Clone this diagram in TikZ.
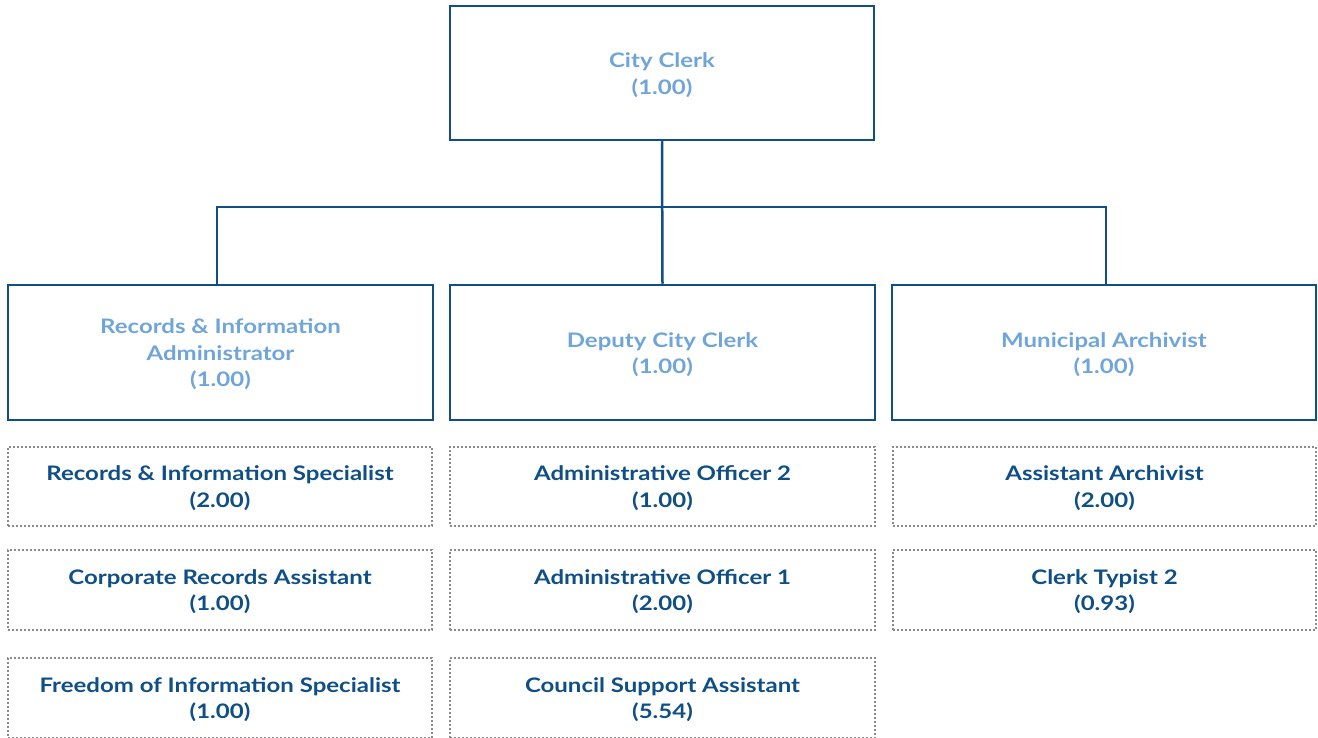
\documentclass[tikz,border=0pt]{standalone}
\usepackage{fontspec}
\setmainfont{Lato}[UprightFont=* Bold,FakeStretch=1.2]
\definecolor{dblue}{HTML}{0F4F85}
\definecolor{lblue}{HTML}{6FA5D8}
\definecolor{dotgray}{HTML}{8A8A8A}
\begin{document}
\begin{tikzpicture}[x=1pt,y=-1pt,
  txt/.style={align=center,inner sep=0pt,font=\fontsize{20}{26.5}\selectfont},
  mtext/.style={txt,text=lblue,yshift=-2pt},
  stext/.style={txt,text=dblue,yshift=-1.5pt},
  mainbox/.style={draw=dblue,line width=2.5pt,inner sep=0pt,label={[mtext]center:{#1}}},
  subbox/.style={draw=dotgray,line width=1.6pt,dash pattern=on 1.6pt off 2.4pt,inner sep=0pt,label={[stext]center:{#1}}},
  link/.style={draw=dblue,line width=2.5pt}]
\useasboundingbox (0,0) rectangle (1318,738);
% main boxes
\node[mainbox={City Clerk\\(1.00)},minimum width=424pt,minimum height=134pt] (cc) at (662,73) {};
\node[mainbox={Records \& Information\\Administrator\\(1.00)},minimum width=425pt,minimum height=135pt] (ria) at (220.5,352.5) {};
\node[mainbox={Deputy City Clerk\\(1.00)},minimum width=425pt,minimum height=135pt] (dcc) at (662.5,352.5) {};
\node[mainbox={Municipal Archivist\\(1.00)},minimum width=424pt,minimum height=135pt] (ma) at (1104,352.5) {};
% connectors
\coordinate (bus) at (663,207);
\draw[link] (cc.south) -- (dcc.north);
\draw[link] (ria.north -| 217,0) |- (bus) -| (ma.north -| 1106,0);
% sub boxes
\node[subbox={Records \& Information Specialist\\(2.00)},minimum width=424pt,minimum height=79pt] (s11) at (220,486.5) {};
\node[subbox={Corporate Records Assistant\\(1.00)},minimum width=424pt,minimum height=80pt] (s12) at (220,590) {};
\node[subbox={Freedom of Information Specialist\\(1.00)},minimum width=424pt,minimum height=80pt] (s13) at (220,698) {};
\node[subbox={Administrative Officer 2\\(1.00)},minimum width=425pt,minimum height=79pt] (s21) at (662.5,486.5) {};
\node[subbox={Administrative Officer 1\\(2.00)},minimum width=425pt,minimum height=80pt] (s22) at (662.5,590) {};
\node[subbox={Council Support Assistant\\(5.54)},minimum width=425pt,minimum height=80pt] (s23) at (662.5,698) {};
\node[subbox={Assistant Archivist\\(2.00)},minimum width=423pt,minimum height=79pt] (s31) at (1104.5,486.5) {};
\node[subbox={Clerk Typist 2\\(0.93)},minimum width=423pt,minimum height=80pt] (s32) at (1104.5,590) {};
\end{tikzpicture}
\end{document}
